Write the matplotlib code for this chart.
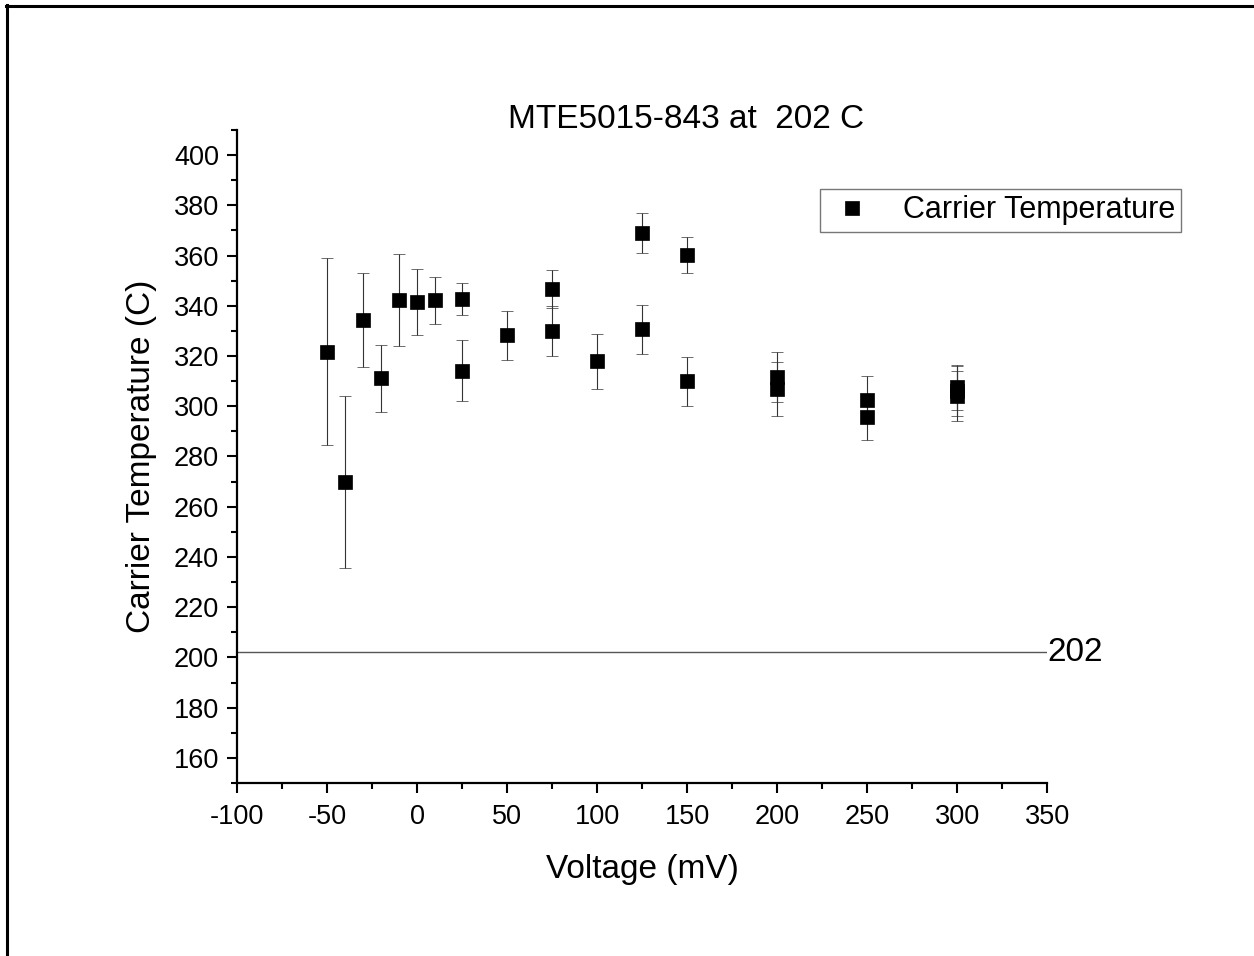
import matplotlib
matplotlib.use('Agg')
import matplotlib.pyplot as plt
from matplotlib.lines import Line2D
from matplotlib.ticker import MultipleLocator

plt.rcParams['font.family'] = ['Liberation Sans', 'DejaVu Sans']
plt.rcParams['axes.unicode_minus'] = False

# data
voltage = [-50, -40, -30, -20, -10, 0, 10, 25, 25, 50, 75, 75, 100, 125, 125,
           150, 150, 200, 200, 250, 250, 300, 300, 300]
carrier_temp = [321.8, 269.8, 334.2, 311.1, 342.2, 341.6, 342.2, 342.7, 314.2,
                328.2, 346.8, 329.9, 317.9, 369.0, 330.7, 360.3, 309.9, 311.6,
                307.0, 302.6, 295.8, 307.6, 306.0, 304.2]
temp_err = [37.4, 34.3, 18.7, 13.4, 18.3, 13.1, 9.3, 6.3, 12.0, 9.9, 7.6, 10.0,
            10.9, 8.0, 9.8, 7.2, 9.7, 10.0, 10.8, 9.4, 9.2, 9.0, 10.0, 10.0]
ref_temp = 202
title = 'MTE5015-843 at  202 C'

fig = plt.figure(figsize=(12.54, 9.56), dpi=100)
ax = fig.add_axes([0.189, 0.181, 0.646, 0.683])

ax.errorbar(voltage, carrier_temp, yerr=temp_err, fmt='s', color='black',
            ms=9.5, mew=0.5, ecolor='#333333', elinewidth=0.8, capsize=4.5,
            capthick=0.8, zorder=3)

# reference line at the oven temperature
ax.axhline(ref_temp, color='#555555', lw=1.0, zorder=1)
ax.text(350, ref_temp, str(ref_temp), ha='left', va='center', fontsize=24,
        clip_on=False)

ax.set_xlim(-100, 350)
ax.set_ylim(150, 410)
ax.xaxis.set_major_locator(MultipleLocator(50))
ax.xaxis.set_minor_locator(MultipleLocator(25))
ax.yaxis.set_major_locator(MultipleLocator(20))
ax.yaxis.set_minor_locator(MultipleLocator(10))
ax.set_yticks(range(160, 401, 20))

for side in ['top', 'right']:
    ax.spines[side].set_visible(False)
for side in ['left', 'bottom']:
    ax.spines[side].set_linewidth(1.6)

ax.tick_params(which='major', direction='out', length=7, width=1.5,
               labelsize=19.5, pad=6)
ax.tick_params(axis='x', which='major', pad=8)
ax.tick_params(which='minor', direction='out', length=4, width=1.5)

ax.set_xlabel('Voltage (mV)', fontsize=24)
ax.xaxis.label.set_va('baseline')
ax.xaxis.set_label_coords(0.5, -0.1455)
ax.set_ylabel('Carrier Temperature (C)', fontsize=24)
ax.yaxis.set_label_coords(-0.099, 0.5)

fig.text(0.547, 0.866, title, ha='center', va='baseline', fontsize=24)

handle = Line2D([], [], marker='s', ls='none', color='black', ms=9.5, mew=0.5)
fig.legend([handle], ['Carrier Temperature'], loc='upper left',
           bbox_to_anchor=(0.654, 0.802), bbox_transform=fig.transFigure,
           borderaxespad=0, fontsize=22, fancybox=False, framealpha=1,
           edgecolor='#777777', borderpad=0.2, handlelength=1.7,
           handletextpad=0.8)

# outer frame (only top and left edges are visible)
fig.add_artist(Line2D([6 / 1254, 1], [1 - 6 / 956, 1 - 6 / 956],
                      transform=fig.transFigure, color='black', lw=2.2))
fig.add_artist(Line2D([7 / 1254, 7 / 1254], [0, 1 - 5 / 956],
                      transform=fig.transFigure, color='black', lw=2.2))

fig.savefig('out.png', dpi=100)
